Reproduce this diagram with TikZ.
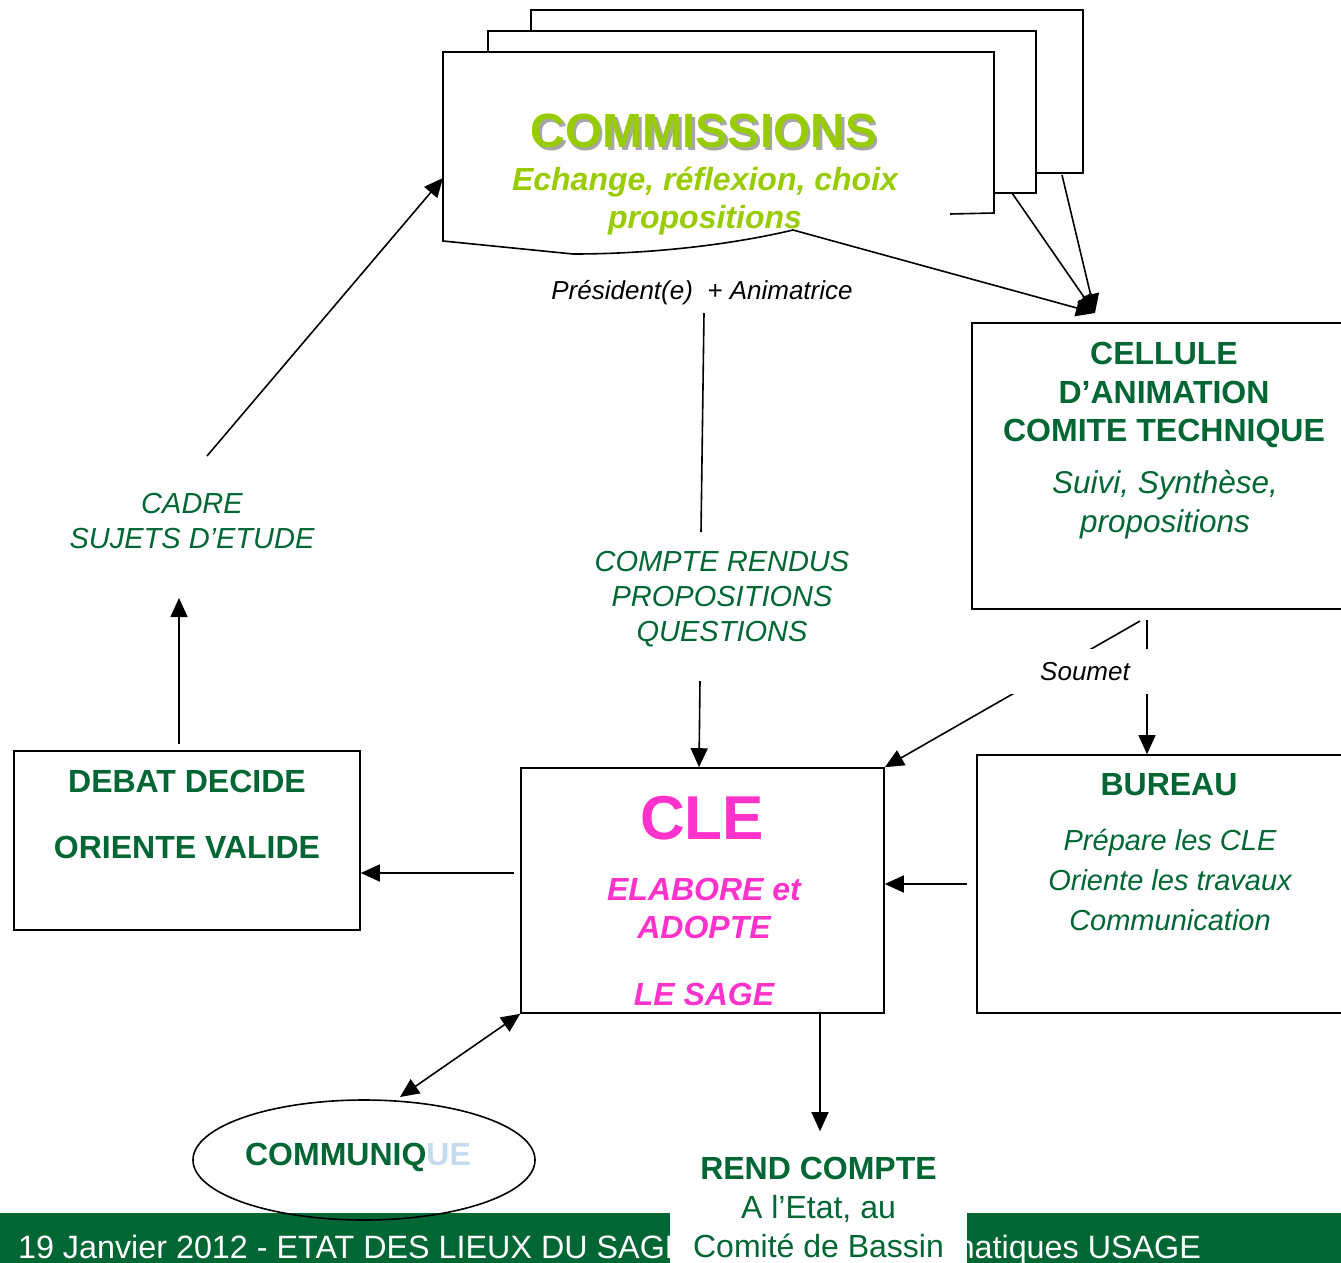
\documentclass[tikz,border=0pt]{standalone}
\usepackage{fontspec}
\setmainfont{Liberation Sans}
\usepackage{tikz}
\usetikzlibrary{arrows.meta}
\usetikzlibrary{shapes.geometric}

\definecolor{vert}{HTML}{006633}
\definecolor{anis}{HTML}{99CC00}
\definecolor{rose}{HTML}{FF33CC}
\definecolor{bleu}{HTML}{C5DCF0}
\newcommand\taille[2]{\fontsize{#1}{#2}\selectfont}

\begin{document}
\begin{tikzpicture}[x=1pt,y=-1pt,line width=1.6pt,
    pointe/.tip={Triangle[length=19pt,width=17pt]},
    fleche/.style={-pointe},
    boite/.style={draw,rectangle,inner sep=0pt},
    vertgras/.style={text=vert,font=\bfseries\taille{32}{38.5},align=center},
    vertital/.style={text=vert,font=\itshape\taille{29}{35},align=center}]
    \useasboundingbox (0,0) rectangle (1341,1263);

    % bandeau du bas
    \fill[vert] (0,1213) rectangle (1345,1270);
    \node[text=white,font=\taille{32.3}{32.3},anchor=base west] (date) at (14,1258) {19 Janvier 2012 - ETAT DES LIEUX DU SAGE};
    \node[text=white,font=\taille{32.3}{32.3},anchor=base east] (usage) at (1205,1258) {matiques USAGE};

    % les commissions (pile de feuilles)
    \draw[fill=white] (531,10) rectangle (1083,173);  %feuille du fond
    \draw[fill=white] (488,31) rectangle (1036,193);  %feuille du milieu
    \fill[white] (443,52) -- (994,52) -- (994,213) -- (950,214) -- (793,230)
        .. controls (730,245) and (650,254) .. (573,254) -- (443,241) -- cycle;
    \draw (950,214) -- (994,213) -- (994,52) -- (443,52) -- (443,241) -- (573,254)
        .. controls (650,254) and (730,245) .. (793,230);  %feuille de devant
    \coordinate (vague) at (793,230);
    \coordinate (coin1) at (1012,193);
    \coordinate (coin2) at (1062,175);
    \coordinate (gauche) at (443,178);
    \node[text=black!35,font=\bfseries\taille{48}{48}] at (706.5,133.5) {COMMISSIONS};
    \node[text=anis,font=\bfseries\taille{48}{48}] (commissions) at (704,131) {COMMISSIONS};
    \node[text=anis,font=\bfseries\itshape\taille{32}{38},align=center] (echange) at (705,201.5) {Echange, réflexion, choix\\propositions};
    \node[font=\itshape\taille{26}{26}] (president) at (702,293) {Président(e)\ \ + Animatrice};

    % cellule d'animation
    \node[boite,minimum width=380,minimum height=286] (cellule) at (1162,466) {};
    \node[vertgras] (celtitre) at (1164,395) {CELLULE\\D’ANIMATION\\COMITE TECHNIQUE};
    \node[text=vert,font=\itshape\taille{31.5}{39},align=center] (suivi) at (1165,505) {Suivi, Synthèse,\\propositions};
    \coordinate (pointe) at (1095,313);

    % bureau
    \node[boite,minimum width=373,minimum height=258] (bureau) at (1163.5,884) {};
    \node[vertgras] (burtitre) at (1169,785) {BUREAU};
    \node[text=vert,font=\itshape\taille{29}{40},align=center] (prepare) at (1170,880) {Prépare les CLE\\Oriente les travaux\\Communication};

    % CLE
    \node[boite,minimum width=363,minimum height=245] (cle) at (702.5,890.5) {};
    \node[text=rose,font=\bfseries\taille{62}{62}] (cletitre) at (702,818) {CLE};
    \node[text=rose,font=\bfseries\itshape\taille{32}{38},align=center] (elabore) at (704,941.5) {ELABORE et\\ADOPTE\\[29pt]LE SAGE};

    % debat
    \node[boite,minimum width=346,minimum height=179] (debat) at (187,840.5) {};
    \node[vertgras] (decide) at (187,814) {DEBAT DECIDE\\[27.5pt]ORIENTE VALIDE};

    % textes libres
    \node[vertital] (cadre) at (192,521) {CADRE\\SUJETS D’ETUDE};
    \node[vertital] (compte) at (722,599) {COMPTE RENDUS\\PROPOSITIONS\\QUESTIONS};

    % rend compte
    \node[fill=white,minimum width=297,minimum height=150,text=vert,font=\taille{32}{39},align=center] (rend) at (818.5,1207) {\textbf{REND COMPTE}\\A l’Etat, au\\Comité de Bassin};

    % communique
    \node[draw,ellipse,minimum width=342,minimum height=120,inner sep=0pt] (communique) at (364,1160) {};
    \node[font=\bfseries\taille{32}{32}] (comtexte) at (358,1157) {\textcolor{vert}{COMMUNIQ}\textcolor{bleu}{UE}};

    % fleches
    \draw[fleche] (vague) -- (pointe);
    \draw[fleche] (coin1) -- (pointe);
    \draw[fleche] (coin2) -- (pointe);
    \draw (704,313) -- (701,532);  %vers les comptes rendus
    \draw[fleche] (700,681) -- (cle.north -| 699,0);
    \draw[fleche] (1140,621) -- (cle.north east);
    \draw[fleche] (1147,620) -- (bureau.north -| 1147,0);
    \draw[fleche] ([xshift=-9pt]bureau.west) -- (cle.east |- bureau.west);
    \draw[fleche] (514,873) -- (debat.east |- 0,873);
    \draw[fleche] (debat.north -| 179,0) ++(0,-6) -- (179,598);
    \draw[fleche] (207,456) -- (gauche);
    \draw[pointe-pointe] (400,1097) -- (cle.south west);
    \draw[fleche] (cle.south -| 820,0) -- (rend.north -| 820,0);

    % soumet, sur les deux traits
    \node[fill=white,minimum width=150,minimum height=45,font=\itshape\taille{26}{26}] (soumet) at (1085,671.5) {Soumet};
\end{tikzpicture}
\end{document}
